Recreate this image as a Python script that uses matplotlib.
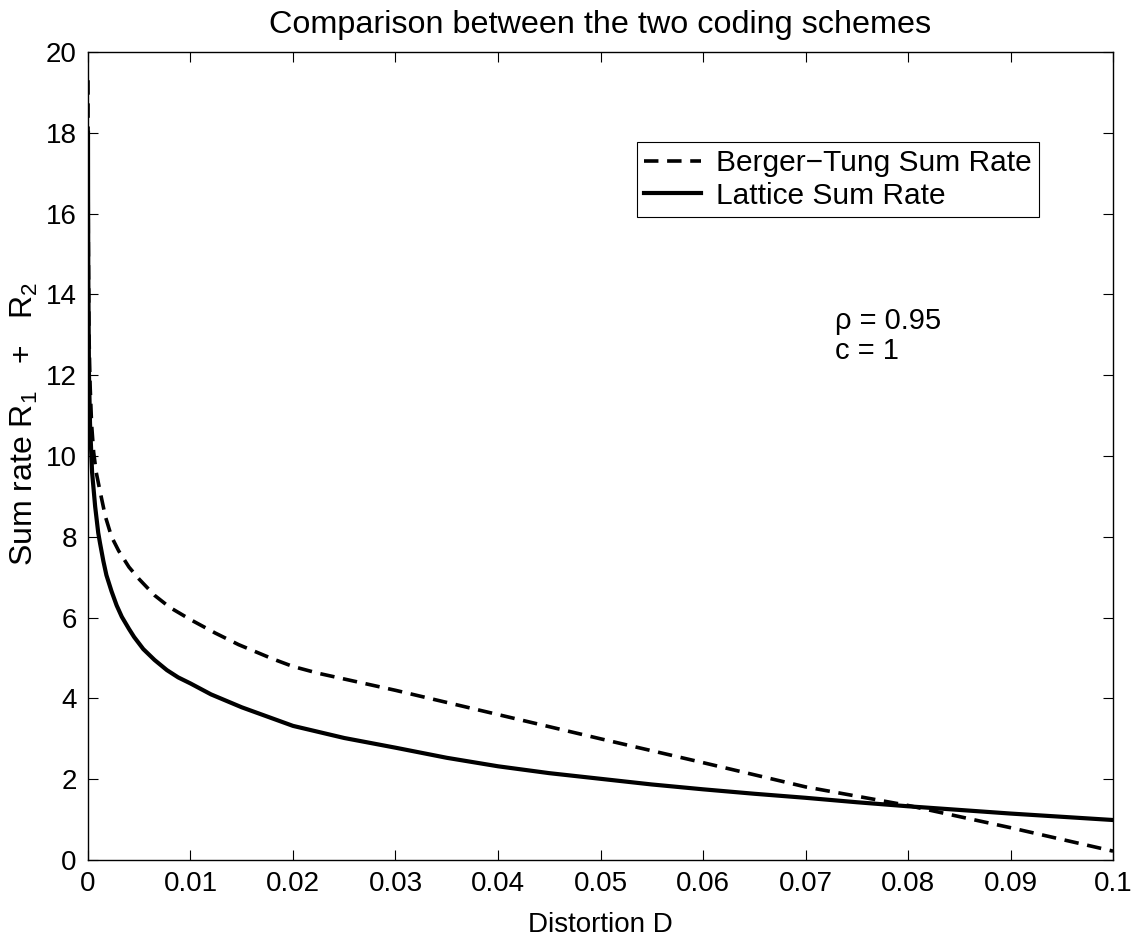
import matplotlib
matplotlib.use("Agg")
import matplotlib.pyplot as plt

# values
d_lattice = [0.000003, 0.00001, 0.00003, 0.0001, 0.0002, 0.0004, 0.0007, 0.001, 0.00117,
             0.0015, 0.0018, 0.0023, 0.0028, 0.0033, 0.004, 0.0045, 0.0054, 0.0065,
             0.0077, 0.0088, 0.01, 0.012, 0.015, 0.02, 0.025, 0.03, 0.035, 0.04, 0.045,
             0.05, 0.055, 0.06, 0.065, 0.07, 0.075, 0.08, 0.085, 0.09, 0.095, 0.1]
r_lattice = [18.0, 16.5, 14.5, 12.0, 10.8, 9.6, 8.75, 8.1, 7.85,
             7.4, 7.05, 6.65, 6.3, 6.02, 5.72, 5.52, 5.22, 4.95,
             4.70, 4.52, 4.37, 4.10, 3.78, 3.32, 3.02, 2.78, 2.53, 2.32, 2.15,
             2.01, 1.87, 1.75, 1.64, 1.54, 1.43, 1.33, 1.24, 1.15, 1.07, 0.99]

d_bt = [0.000003, 0.00001, 0.00003, 0.0001, 0.0002, 0.00035, 0.00055, 0.0008, 0.0012,
        0.0017, 0.0023, 0.003, 0.004, 0.005, 0.0065, 0.008, 0.01, 0.0124, 0.0147,
        0.018, 0.02, 0.0225, 0.025, 0.03, 0.035, 0.04, 0.045, 0.05, 0.06, 0.07, 0.08,
        0.09, 0.1]
r_bt = [19.3, 17.5, 15.5, 13.0, 11.8, 10.8, 10.1, 9.6, 9.1,
        8.5, 8.0, 7.65, 7.25, 6.95, 6.55, 6.25, 5.95, 5.62, 5.33,
        4.98, 4.79, 4.62, 4.48, 4.20, 3.90, 3.60, 3.30, 3.00, 2.41, 1.81, 1.35,
        0.80, 0.22]

x_ticks = [0, 0.01, 0.02, 0.03, 0.04, 0.05, 0.06, 0.07, 0.08, 0.09, 0.1]
x_labels = ["0", "0.01", "0.02", "0.03", "0.04", "0.05", "0.06", "0.07", "0.08", "0.09", "0.1"]
y_ticks = [0, 2, 4, 6, 8, 10, 12, 14, 16, 18, 20]

plt.rcParams['font.family'] = ['Liberation Sans', 'DejaVu Sans']
plt.rcParams['mathtext.fontset'] = 'custom'
plt.rcParams['mathtext.rm'] = 'Liberation Sans'
plt.rcParams['mathtext.it'] = 'Liberation Sans'
plt.rcParams['font.size'] = 20

fig = plt.figure(figsize=(11.41, 9.43), dpi=100)
ax = fig.add_axes([0.0771, 0.0880, 0.8984, 0.8569])

ax.plot(d_bt, r_bt, color='black', lw=2.6, linestyle=(0, (4, 2.4)),
        label='Berger\u2212Tung Sum Rate')
ax.plot(d_lattice, r_lattice, color='black', lw=3.0, label='Lattice Sum Rate')

ax.set_xlim(0, 0.1)
ax.set_ylim(0, 20)
ax.set_xticks(x_ticks)
ax.set_xticklabels(x_labels)
ax.set_yticks(y_ticks)
ax.tick_params(direction='in', length=7, width=0.8, top=True, right=True, pad=8)
for s in ax.spines.values():
    s.set_linewidth(1.0)

ax.set_title('Comparison between the two coding schemes', fontsize=23.3, pad=14)
ax.set_xlabel('Distortion D', labelpad=11)
ax.set_ylabel('Sum rate R$_{1}$   +   R$_{2}$', fontsize=23)
ax.yaxis.set_label_coords(-0.047, 0.54)

ax.text(0.0729, 13.35, '\u03c1 = 0.95', va='center', ha='left', fontsize=21)
ax.text(0.0729, 12.6, 'c = 1', va='center', ha='left', fontsize=21)

leg = ax.legend(loc='upper right', bbox_to_anchor=(0.928, 0.889), fancybox=False,
                framealpha=1, edgecolor='black', borderpad=0.25, handlelength=1.9,
                handletextpad=0.5, labelspacing=0.15, borderaxespad=0, fontsize=21.5)
leg.get_frame().set_linewidth(0.8)

fig.savefig('out.png', dpi=100)
